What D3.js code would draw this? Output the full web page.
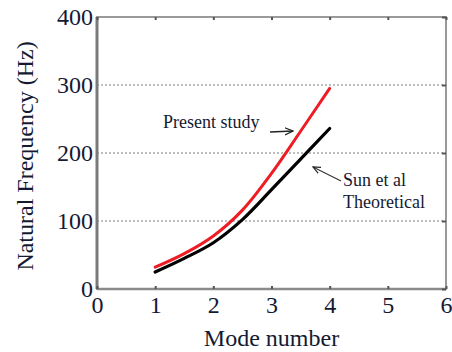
<!DOCTYPE html>
<html>
<head>
<meta charset="utf-8">
<title>Natural Frequency vs Mode number</title>
<style>
  body { margin: 0; background: #fff; }
  svg { display: block; }
  text { font-family: "Times New Roman", "Liberation Serif", "DejaVu Serif", serif; fill: #141a33; }
</style>
</head>
<body>
<div id="chart"></div>
<script src="https://d3js.org/d3.v7.min.js"></script>
<script>
// data
var modes = [1, 1.5, 2, 2.5, 3, 3.5, 4];
var presentStudy = [32, 52, 78, 116, 170, 232, 295];
var sunTheoretical = [25, 45, 68, 102, 146, 191, 236];
var xTicks = [0, 1, 2, 3, 4, 5, 6];
var yTicks = [0, 100, 200, 300, 400];

var serif = "'Times New Roman', 'Liberation Serif', 'DejaVu Serif', serif";
var W = 452, H = 352;
var margin = {top: 17, right: 6, bottom: 63, left: 97};

var svg = d3.select("#chart").append("svg")
  .attr("width", W).attr("height", H);

var x = d3.scaleLinear().domain([0, 6]).range([margin.left, W - margin.right]);
var y = d3.scaleLinear().domain([0, 400]).range([H - margin.bottom, margin.top]);

// dotted grid
svg.append("g").selectAll("line")
  .data(yTicks.filter(function(d) { return d > 0 && d < 400; }))
  .enter().append("line")
    .attr("x1", x(0)).attr("x2", x(6))
    .attr("y1", function(d) { return y(d); })
    .attr("y2", function(d) { return y(d); })
    .attr("stroke", "#a8a8a8")
    .attr("stroke-width", 1.5)
    .attr("stroke-dasharray", "2,2");

// frame
svg.append("rect")
  .attr("x", x(0)).attr("y", y(400))
  .attr("width", x(6) - x(0)).attr("height", y(0) - y(400))
  .attr("fill", "none").attr("stroke", "#9a9a9a").attr("stroke-width", 2);
svg.append("line")
  .attr("x1", x(0)).attr("x2", x(0)).attr("y1", y(400)).attr("y2", y(0))
  .attr("stroke", "#7a7a7a").attr("stroke-width", 3);
svg.append("line")
  .attr("x1", x(0)).attr("x2", x(6)).attr("y1", y(0)).attr("y2", y(0))
  .attr("stroke", "#8a8a8a").attr("stroke-width", 2.5);

// axes
var xAxis = svg.append("g")
  .attr("transform", "translate(0," + y(0) + ")")
  .call(d3.axisBottom(x).tickValues(xTicks).tickSize(-3).tickPadding(9).tickFormat(d3.format("d")));
var xTop = svg.append("g")
  .attr("transform", "translate(0," + y(400) + ")")
  .call(d3.axisTop(x).tickValues(xTicks).tickSize(-3).tickFormat(""));
var yAxis = svg.append("g")
  .attr("transform", "translate(" + x(0) + ",0)")
  .call(d3.axisLeft(y).tickValues(yTicks).tickSize(0).tickPadding(4).tickFormat(d3.format("d")));
var yRight = svg.append("g")
  .attr("transform", "translate(" + x(6) + ",0)")
  .call(d3.axisRight(y).tickValues(yTicks).tickSize(-4).tickFormat(""));

[xAxis, xTop, yAxis, yRight].forEach(function(g) {
  g.attr("font-family", serif).attr("font-size", 24);
  g.select(".domain").remove();
  g.selectAll(".tick line").attr("stroke", "#555").attr("stroke-width", 2);
  g.selectAll("text").attr("fill", "#141a33");
});
xAxis.selectAll("text").attr("dy", "0.71em").attr("y", 7);

// lines
var line = d3.line()
  .x(function(d) { return x(d[0]); })
  .y(function(d) { return y(d[1]); })
  .curve(d3.curveCatmullRom.alpha(0.5));

svg.append("path")
  .datum(modes.map(function(m, i) { return [m, sunTheoretical[i]]; }))
  .attr("d", line)
  .attr("fill", "none").attr("stroke", "#000").attr("stroke-width", 3.2)
  .attr("stroke-linecap", "round");
svg.append("path")
  .datum(modes.map(function(m, i) { return [m, presentStudy[i]]; }))
  .attr("d", line)
  .attr("fill", "none").attr("stroke", "#ee1c25").attr("stroke-width", 3)
  .attr("stroke-linecap", "round");

// axis titles
svg.append("text")
  .attr("x", (x(0) + x(6)) / 2).attr("y", 346)
  .attr("text-anchor", "middle")
  .style("font-family", serif).style("font-size", "24px")
  .text("Mode number");
svg.append("text")
  .attr("transform", "translate(33," + ((y(0) + y(400)) / 2 + 3) + ") rotate(-90)")
  .attr("text-anchor", "middle")
  .style("font-family", serif).style("font-size", "24px")
  .text("Natural Frequency (Hz)");

// annotations
svg.append("defs").append("marker")
  .attr("id", "head").attr("viewBox", "0 0 10 10")
  .attr("refX", 9).attr("refY", 5)
  .attr("markerWidth", 7).attr("markerHeight", 7)
  .attr("orient", "auto")
  .append("path").attr("d", "M0,1 L9,5 L0,9").attr("fill", "none")
  .attr("stroke", "#222").attr("stroke-width", 1.4);

svg.append("text").attr("x", 163).attr("y", 128)
  .style("font-family", serif).style("font-size", "18px").attr("fill", "#000").text("Present study");
svg.append("line")
  .attr("x1", 270).attr("y1", 132).attr("x2", 293).attr("y2", 131)
  .attr("stroke", "#222").attr("stroke-width", 1.3).attr("marker-end", "url(#head)");

svg.append("text").attr("x", 343).attr("y", 186)
  .style("font-family", serif).style("font-size", "18px").attr("fill", "#000").text("Sun et al");
svg.append("text").attr("x", 343).attr("y", 208)
  .style("font-family", serif).style("font-size", "18px").attr("fill", "#000").text("Theoretical");
svg.append("line")
  .attr("x1", 341).attr("y1", 181).attr("x2", 313).attr("y2", 167)
  .attr("stroke", "#333").attr("stroke-width", 1.2).attr("marker-end", "url(#head)");
</script>
</body>
</html>
